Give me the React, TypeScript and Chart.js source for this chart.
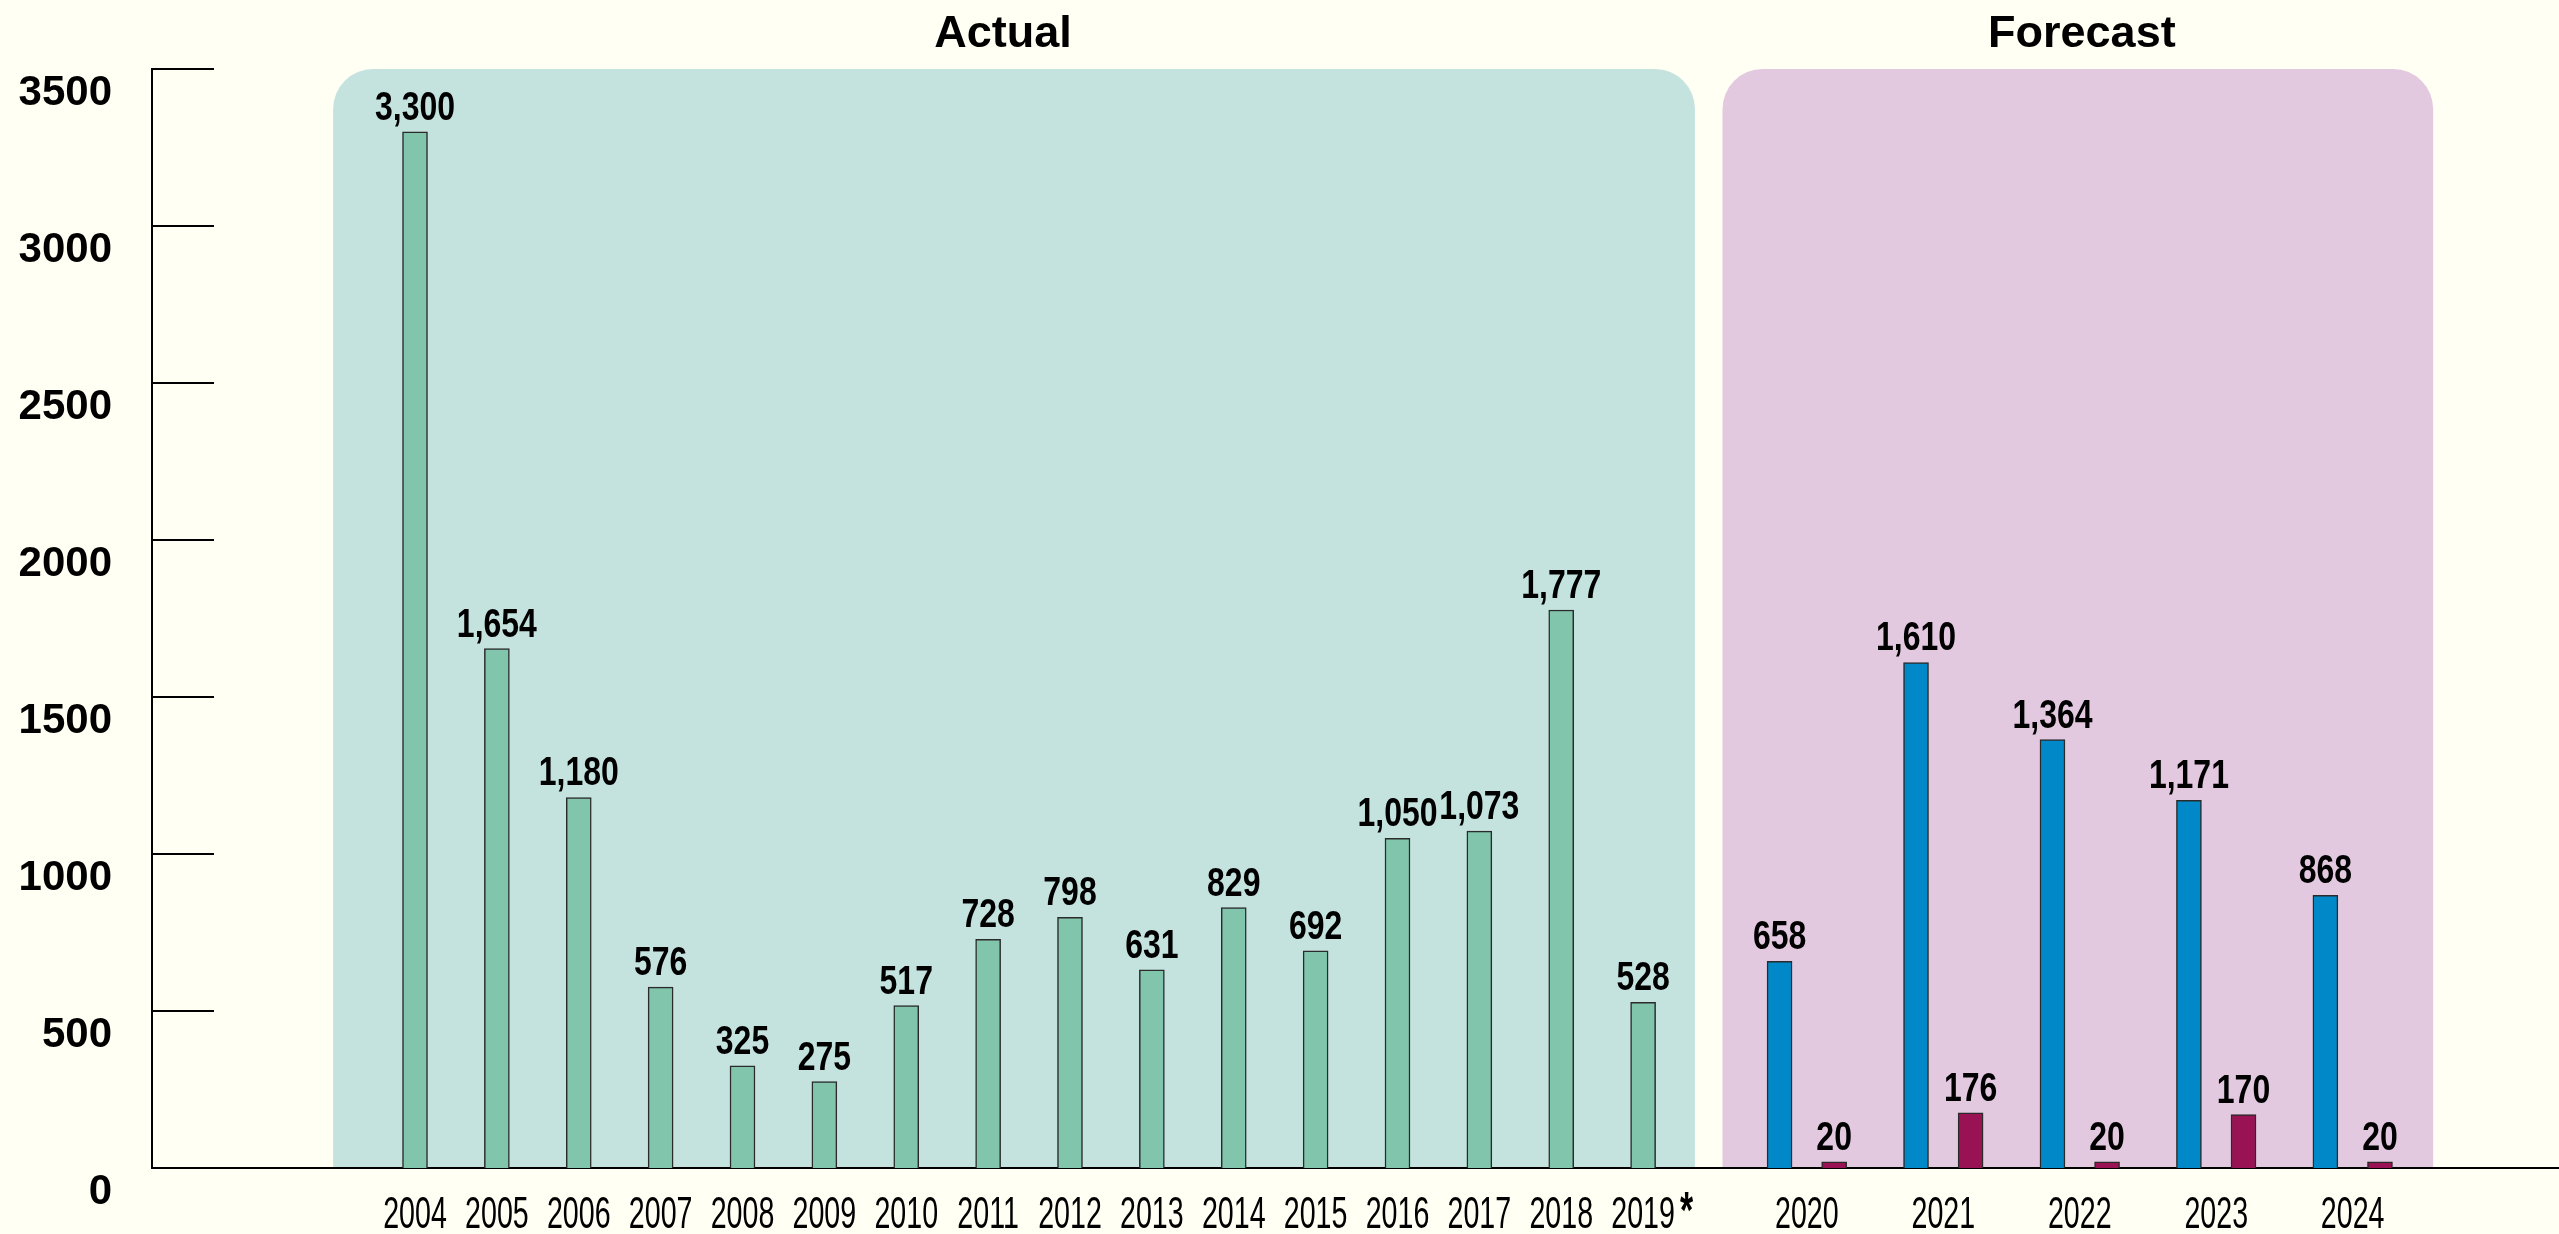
import React, { useEffect, useRef } from "react";
import { Chart, registerables } from "chart.js";

Chart.register(...registerables);

// ---- data ----
const actualYears = ["2004", "2005", "2006", "2007", "2008", "2009", "2010", "2011", "2012", "2013", "2014", "2015", "2016", "2017", "2018", "2019*"];
const actualValues = [3300, 1654, 1180, 576, 325, 275, 517, 728, 798, 631, 829, 692, 1050, 1073, 1777, 528];
const forecastYears = ["2020", "2021", "2022", "2023", "2024"];
const forecastBlue = [658, 1610, 1364, 1171, 868];
const forecastMaroon = [20, 176, 20, 170, 20];
const sectionTitles = ["Actual", "Forecast"];
const yMin = 0;
const yMax = 3500;
const yStep = 500;

// ---- layout / style ----
const W = 2559;
const H = 1234;
const ACTUAL_STEP = 3;
const FORECAST_START = 50;
const FORECAST_STEP = 5;
const PAIR_GAP = 2;
const X_MIN = -9.637;
const X_MAX = 78.56;
const ACTUAL_BOX = [-3, 46.9];
const FORECAST_BOX = [47.91, 73.95];
const TITLE_SHIFT = [-11, 4];

const BG = "#fffff3";
const TEAL_BOX = "#c4e3df";
const PINK_BOX = "#e3c9e0";
const TEAL_BAR = "#80c5ac";
const BLUE_BAR = "#0088c8";
const MAROON_BAR = "#981254";
const BAR_BORDER = "#2a2a2a";
const SANS = '"Liberation Sans", Arial, sans-serif';

const fmt = (v: number) => v.toLocaleString("en-US");

export default function App() {
  const ref = useRef<HTMLCanvasElement>(null);

  useEffect(() => {
    const canvas = ref.current!;
    const actualPos = actualYears.map((_, i) => i * ACTUAL_STEP);
    const bluePos = forecastYears.map((_, j) => FORECAST_START + j * FORECAST_STEP);
    const maroonPos = bluePos.map((p) => p + PAIR_GAP);
    const groupPos = bluePos.map((p) => p + PAIR_GAP / 2);

    const bgPlugin = {
      id: "bgPlugin",
      beforeDraw(chart: any) {
        const { ctx, chartArea, scales } = chart;
        const xs = scales.x;
        ctx.save();
        ctx.fillStyle = BG;
        ctx.fillRect(0, 0, chart.width, chart.height);
        const boxes: [number[], string, string, number][] = [
          [ACTUAL_BOX, TEAL_BOX, sectionTitles[0], TITLE_SHIFT[0]],
          [FORECAST_BOX, PINK_BOX, sectionTitles[1], TITLE_SHIFT[1]],
        ];
        for (const [b, col, title, shift] of boxes) {
          const l = xs.getPixelForValue(b[0]);
          const r = xs.getPixelForValue(b[1]);
          const t = chartArea.top;
          const bt = chartArea.bottom;
          ctx.fillStyle = col;
          ctx.beginPath();
          (ctx as any).roundRect(l, t, r - l, bt - t, [40, 40, 0, 0]);
          ctx.fill();
          ctx.fillStyle = "#000";
          ctx.font = `bold 45px ${SANS}`;
          ctx.textAlign = "center";
          ctx.textBaseline = "alphabetic";
          ctx.fillText(title, (l + r) / 2 + shift, 47);
        }
        ctx.restore();
      },
    };

    const overlayPlugin = {
      id: "overlayPlugin",
      afterDatasetsDraw(chart: any) {
        const { ctx, chartArea, scales } = chart;
        const xs = scales.x;
        const ys = scales.y;
        ctx.save();
        // inward tick marks on y axis
        ctx.strokeStyle = "#000";
        ctx.lineWidth = 2;
        for (const t of ys.ticks) {
          const py = Math.round(ys.getPixelForValue(t.value));
          ctx.beginPath();
          ctx.moveTo(chartArea.left, py);
          ctx.lineTo(chartArea.left + 62, py);
          ctx.stroke();
        }
        // value labels
        ctx.fillStyle = "#000";
        ctx.textAlign = "center";
        ctx.textBaseline = "alphabetic";
        ctx.font = `bold 41px ${SANS}`;
        chart.data.datasets.forEach((ds: any, di: number) => {
          const meta = chart.getDatasetMeta(di);
          meta.data.forEach((el: any, i: number) => {
            const v = ds.data[i].y;
            ctx.save();
            ctx.translate(el.x, el.y - 12);
            ctx.scale(0.78, 1);
            ctx.fillText(fmt(v), 0, 0);
            ctx.restore();
          });
        });
        // x category labels
        const baseY = chartArea.bottom + 60;
        const drawLabel = (label: string, px: number) => {
          let base = label;
          let star = false;
          if (label.endsWith("*")) {
            base = label.slice(0, -1);
            star = true;
          }
          ctx.save();
          ctx.font = `44px ${SANS}`;
          ctx.translate(px, baseY);
          ctx.scale(0.65, 1);
          ctx.textAlign = "center";
          ctx.fillText(base, 0, 0);
          if (star) {
            const w = ctx.measureText(base).width;
            ctx.textAlign = "left";
            ctx.font = `bold 52px ${SANS}`;
            ctx.fillText("*", w / 2 + 8, 0);
          }
          ctx.restore();
        };
        actualYears.forEach((y, i) => drawLabel(y, xs.getPixelForValue(actualPos[i])));
        forecastYears.forEach((y, j) => drawLabel(y, xs.getPixelForValue(groupPos[j])));
        ctx.restore();
      },
    };

    const barCommon = {
      borderColor: BAR_BORDER,
      borderWidth: 1.5,
      barThickness: 25,
      grouped: false,
    };

    const chart = new Chart(canvas, {
      type: "bar",
      data: {
        datasets: [
          {
            label: "Actual",
            data: actualValues.map((v, i) => ({ x: actualPos[i], y: v })),
            backgroundColor: TEAL_BAR,
            ...barCommon,
          },
          {
            label: "Forecast A",
            data: forecastBlue.map((v, j) => ({ x: bluePos[j], y: v })),
            backgroundColor: BLUE_BAR,
            ...barCommon,
          },
          {
            label: "Forecast B",
            data: forecastMaroon.map((v, j) => ({ x: maroonPos[j], y: v })),
            backgroundColor: MAROON_BAR,
            ...barCommon,
          },
        ] as any,
      },
      options: {
        responsive: false,
        animation: false,
        devicePixelRatio: 1,
        layout: { padding: { top: 69, left: 0, right: 0, bottom: 0 } },
        plugins: {
          legend: { display: false },
          tooltip: { enabled: false },
          title: { display: false },
        },
        scales: {
          x: {
            type: "linear",
            min: X_MIN,
            max: X_MAX,
            bounds: "data",
            offset: false,
            ticks: { display: false },
            grid: { display: false, drawTicks: false, offset: false },
            border: { display: true, color: "#000", width: 2 },
            afterFit: (s: any) => {
              s.height = 66;
            },
          },
          y: {
            min: yMin,
            max: yMax,
            ticks: {
              stepSize: yStep,
              color: "#000",
              padding: 40,
              labelOffset: 24,
              font: { family: SANS, size: 42, weight: "bold" },
              callback: (v: any) => String(v),
            },
            grid: { display: false, drawTicks: false },
            border: { display: true, color: "#000", width: 2 },
            afterFit: (s: any) => {
              s.width = 152;
            },
          },
        } as any,
      },
      plugins: [bgPlugin, overlayPlugin],
    });
    return () => chart.destroy();
  }, []);

  return (
    <div style={{ position: "fixed", left: 0, top: 0, width: W, height: H, background: BG }}>
      <canvas ref={ref} width={W} height={H} style={{ width: W, height: H, display: "block" }} />
    </div>
  );
}
